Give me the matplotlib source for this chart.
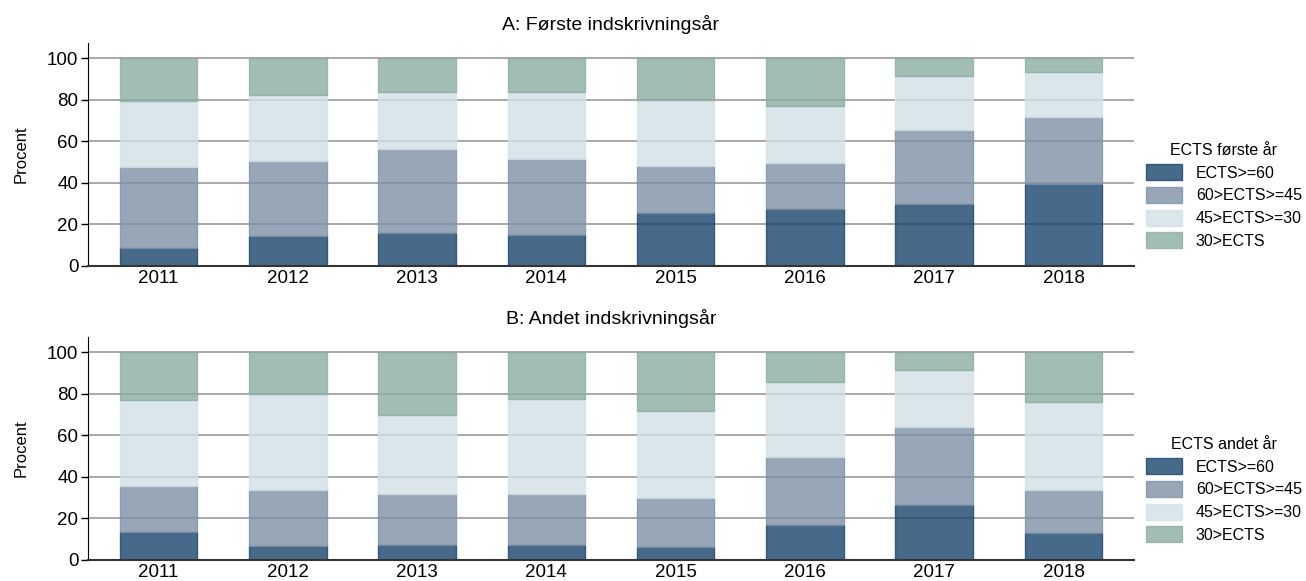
import matplotlib
matplotlib.use("Agg")
import matplotlib.pyplot as plt
import numpy as np

plt.rcParams['font.family'] = ['Liberation Sans', 'DejaVu Sans']

years = ["2011", "2012", "2013", "2014", "2015", "2016", "2017", "2018"]
categories = ["ECTS>=60", "60>ECTS>=45", "45>ECTS>=30", "30>ECTS"]

# Panel A: shares per category
a_ge60 = [8.8, 14.5, 15.9, 14.9, 25.5, 27.5, 30.0, 39.7]
a_45_60 = [38.9, 35.9, 40.5, 36.5, 22.7, 22.1, 35.5, 32.1]
a_30_45 = [31.5, 32.0, 27.5, 32.5, 31.8, 27.5, 26.2, 21.8]
a_lt30 = [20.8, 17.6, 16.1, 16.1, 20.0, 22.9, 8.3, 6.4]

# Panel B
b_ge60 = [13.5, 6.7, 7.2, 7.2, 6.3, 16.9, 26.5, 13.0]
b_45_60 = [22.1, 27.0, 24.6, 24.4, 23.4, 32.7, 37.5, 20.5]
b_30_45 = [41.6, 46.4, 38.0, 45.8, 42.2, 36.3, 27.5, 42.4]
b_lt30 = [22.8, 19.9, 30.2, 22.6, 28.1, 14.1, 8.5, 24.1]

titles = ["A: Første indskrivningsår", "B: Andet indskrivningsår"]
legend_titles = ["ECTS første år", "ECTS andet år"]
colors = ["#19456d", "#7d91a6", "#d2e0e7", "#8bada2"]

fig = plt.figure(figsize=(13.06, 5.81), dpi=100)
ax_top = fig.add_axes([88/1306, 1-266/581, (1134-88)/1306, (266-42.7)/581])
ax_bot = fig.add_axes([88/1306, 1-560/581, (1134-88)/1306, (560-336.7)/581])

panels = [(ax_top, [a_ge60, a_45_60, a_30_45, a_lt30]),
          (ax_bot, [b_ge60, b_45_60, b_30_45, b_lt30])]

x = np.arange(len(years))
for i, (ax, series) in enumerate(panels):
    ax.set_axisbelow(True)
    ax.yaxis.grid(True, color="#9a9a9a", linewidth=1.2)
    bottom = np.zeros(len(years))
    for s, c, lab in zip(series, colors, categories):
        s = np.array(s)
        ax.bar(x, s, width=0.6, bottom=bottom, color=c, alpha=0.8,
               edgecolor=c, linewidth=1.0, label=lab)
        bottom = bottom + s
    ax.set_xlim(-0.545, 7.545)
    ax.set_ylim(0, 107.5)
    ax.set_yticks([0, 20, 40, 60, 80, 100])
    ax.set_xticks(x)
    ax.set_xticklabels(years)
    ax.tick_params(axis='x', length=0, labelsize=13.5, pad=3)
    ax.tick_params(axis='y', length=5, width=1, labelsize=13.5, pad=2)
    ax.set_ylabel("Procent", fontsize=12, labelpad=13)
    for sp in ["top", "right"]:
        ax.spines[sp].set_visible(False)
    ax.spines["left"].set_color("black")
    ax.spines["bottom"].set_color("#333333")
    ax.spines["bottom"].set_linewidth(1.5)
    ax.set_title(titles[i], fontsize=14, pad=9)
    ax.legend(title=legend_titles[i], loc="upper left",
              bbox_to_anchor=(1.005, 0.58), frameon=False,
              fontsize=11.5, title_fontsize=11.5, handlelength=2.3,
              handleheight=1.15, labelspacing=0.4, handletextpad=0.85,
              borderaxespad=0)

fig.savefig("out.png", dpi=100)
